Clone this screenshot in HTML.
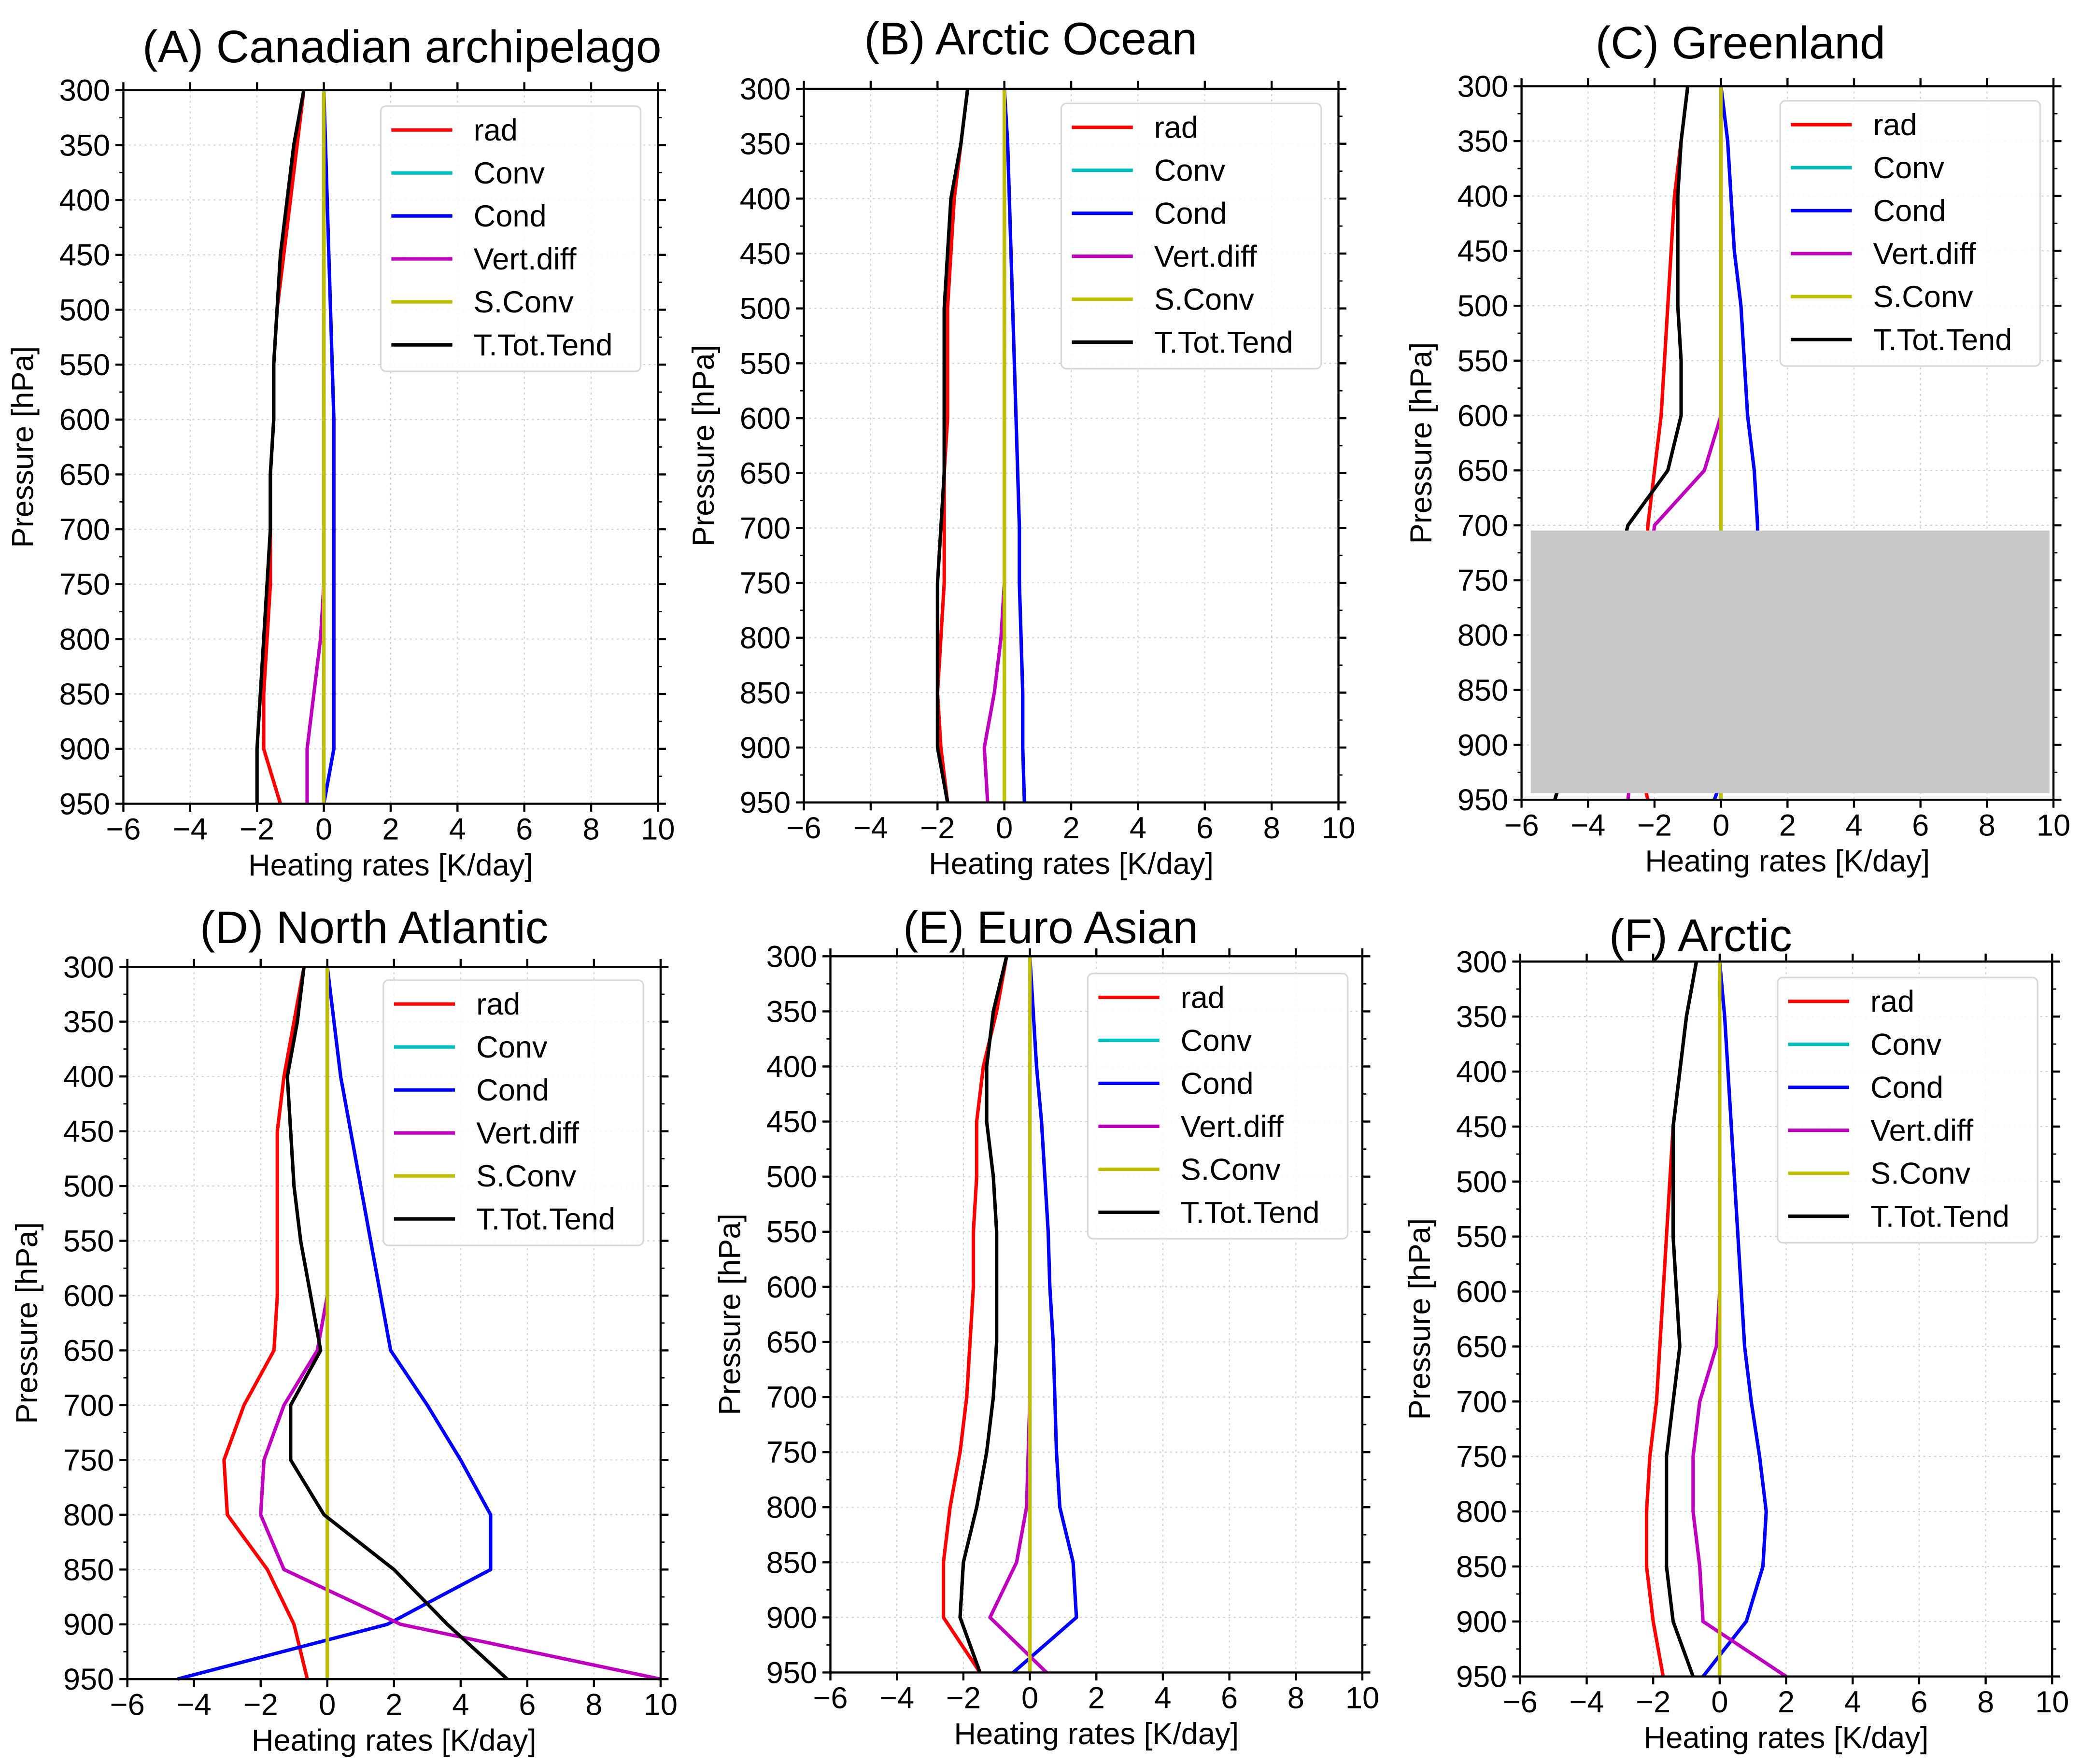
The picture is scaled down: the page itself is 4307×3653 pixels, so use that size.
<!DOCTYPE html>
<html><head><meta charset="utf-8"><style>
html,body{margin:0;padding:0;background:#fff}
svg{display:block}
text{font-family:"Liberation Sans",sans-serif}
</style></head><body>
<svg id="fig" width="4307" height="3653" viewBox="0 0 1568 1330" preserveAspectRatio="none" xmlns="http://www.w3.org/2000/svg"></svg>
<script>
const levels=[300,350,400,450,500,550,600,650,700,750,800,850,900,950];
const xTicks=[-6,-4,-2,0,2,4,6,8,10];
const seriesNames=["rad","Conv","Cond","Vert.diff","S.Conv","T.Tot.Tend"];
const titles=["(A) Canadian archipelago","(B) Arctic Ocean","(C) Greenland","(D) North Atlantic","(E) Euro Asian","(F) Arctic"];
const zeros=[0,0,0,0,0,0,0,0,0,0,0,0,0,0];
const radA=[-0.6,-0.8,-1.0,-1.2,-1.4,-1.5,-1.5,-1.6,-1.6,-1.6,-1.7,-1.8,-1.8,-1.3];
const condA=[0,0.05,0.1,0.15,0.2,0.25,0.3,0.3,0.3,0.3,0.3,0.3,0.3,0];
const vertA=[0,0,0,0,0,0,0,0,0,0,-0.1,-0.3,-0.5,-0.5];
const totA=[-0.6,-0.9,-1.1,-1.3,-1.4,-1.5,-1.5,-1.6,-1.6,-1.7,-1.8,-1.9,-2.0,-2.0];
const radB=[-1.1,-1.3,-1.5,-1.6,-1.7,-1.7,-1.7,-1.8,-1.8,-1.8,-1.9,-2.0,-1.9,-1.7];
const condB=[0,0.1,0.15,0.2,0.25,0.3,0.35,0.4,0.45,0.45,0.5,0.55,0.55,0.6];
const vertB=[0,0,0,0,0,0,0,0,0,0,-0.1,-0.3,-0.6,-0.5];
const totB=[-1.1,-1.3,-1.6,-1.7,-1.8,-1.8,-1.8,-1.8,-1.9,-2.0,-2.0,-2.0,-2.0,-1.7];
const radC=[-1.0,-1.2,-1.4,-1.5,-1.6,-1.7,-1.8,-2.0,-2.2,-2.3,-2.4,-2.5,-2.6,-2.2];
const condC=[0,0.2,0.3,0.4,0.6,0.7,0.8,1.0,1.1,1.1,1.0,0.8,0.4,-0.2];
const vertC=[0,0,0,0,0,0,0,-0.5,-2.0,-2.2,-2.3,-2.4,-2.6,-2.8];
const totC=[-1.0,-1.2,-1.3,-1.3,-1.3,-1.2,-1.2,-1.6,-2.8,-3.2,-3.6,-4.0,-4.5,-5.0];
const radD=[-0.7,-1.0,-1.3,-1.5,-1.5,-1.5,-1.5,-1.6,-2.5,-3.1,-3.0,-1.8,-1.0,-0.6];
const condD=[0,0.2,0.4,0.7,1.0,1.3,1.6,1.9,3.0,4.0,4.9,4.9,1.8,-4.5];
const vertD=[0,0,0,0,0,0,0,-0.3,-1.3,-1.9,-2.0,-1.3,2.2,10];
const totD=[-0.7,-0.9,-1.2,-1.1,-1.0,-0.8,-0.5,-0.2,-1.1,-1.1,-0.1,2.0,3.6,5.4];
const radE=[-0.7,-1.0,-1.4,-1.6,-1.6,-1.7,-1.7,-1.8,-1.9,-2.1,-2.4,-2.6,-2.6,-1.5];
const condE=[0,0.1,0.2,0.35,0.45,0.55,0.6,0.7,0.75,0.8,0.9,1.3,1.4,-0.5];
const vertE=[0,0,0,0,0,0,0,0,0,-0.05,-0.1,-0.4,-1.2,0.5];
const totE=[-0.7,-1.1,-1.3,-1.3,-1.1,-1.0,-1.0,-1.0,-1.1,-1.3,-1.6,-2.0,-2.1,-1.5];
const radF=[-0.7,-1.0,-1.2,-1.4,-1.5,-1.6,-1.7,-1.8,-1.9,-2.1,-2.2,-2.2,-2.0,-1.7];
const condF=[0,0.15,0.25,0.35,0.45,0.55,0.65,0.75,0.95,1.2,1.4,1.3,0.8,-0.5];
const vertF=[0,0,0,0,0,0,0,-0.1,-0.6,-0.8,-0.8,-0.6,-0.5,2.0];
const totF=[-0.7,-1.0,-1.2,-1.4,-1.4,-1.4,-1.3,-1.2,-1.4,-1.6,-1.6,-1.6,-1.4,-0.8];

const panels=[
 {id:"a",x0:93,x1:496,y0:68,y1:606,tx:303,ty:35,lg:[287,80],data:[radA,zeros,condA,vertA,zeros,totA]},
 {id:"b",x0:606,x1:1009,y0:67,y1:605,tx:777,ty:29,lg:[800,78],data:[radB,zeros,condB,vertB,zeros,totB]},
 {id:"c",x0:1147,x1:1548,y0:65,y1:603,tx:1312,ty:32,lg:[1342,76],data:[radC,zeros,condC,vertC,zeros,totC],gray:true},
 {id:"d",x0:96,x1:498,y0:729,y1:1266,tx:282,ty:699,lg:[289,739],data:[radD,zeros,condD,vertD,zeros,totD]},
 {id:"e",x0:626,x1:1027,y0:721,y1:1261,tx:792,ty:699,lg:[820,734],data:[radE,zeros,condE,vertE,zeros,totE]},
 {id:"f",x0:1146,x1:1547,y0:725,y1:1264,tx:1282,ty:705,lg:[1340,737],data:[radF,zeros,condF,vertF,zeros,totF]}
];
const colors=["#ff0000","#00bfbf","#0000ff","#bf00bf","#bfbf00","#000000"];
const NS="http://www.w3.org/2000/svg";
const svg=document.getElementById("fig");
function mk(tag,attrs,parent,txt){const e=document.createElementNS(NS,tag);for(const k in attrs)e.setAttribute(k,attrs[k]);if(txt!==undefined)e.textContent=txt;parent.appendChild(e);return e;}
panels.forEach(p=>{
 const sx=v=>p.x0+(v+6)/16*(p.x1-p.x0);
 const sy=v=>p.y0+(v-300)/650*(p.y1-p.y0);
 const g=mk("g",{},svg);
 
 
 xTicks.forEach(t=>{mk("line",{x1:sx(t),x2:sx(t),y1:p.y0,y2:p.y1,stroke:"#d0d0d0","stroke-width":0.8,"stroke-dasharray":"1.5,2.5"},g);});
 levels.forEach(t=>{mk("line",{x1:p.x0,x2:p.x1,y1:sy(t),y2:sy(t),stroke:"#d0d0d0","stroke-width":0.8,"stroke-dasharray":"1.5,2.5"},g);});
 p.data.forEach((arr,i)=>{
  const pts=arr.map((v,k)=>sx(v).toFixed(2)+","+sy(levels[k]).toFixed(2)).join(" ");
  const pl=mk("polyline",{points:pts,fill:"none",stroke:colors[i],"stroke-width":2.6,"stroke-linejoin":"round"},g);
  
  
 });
 if(p.gray){const r=mk("rect",{x:1154,y:400,width:391,height:198,fill:"#c8c8c8"},g);
  
  }
 mk("rect",{x:p.x0,y:p.y0,width:p.x1-p.x0,height:p.y1-p.y0,fill:"none",stroke:"#000","stroke-width":1.6},g);
 xTicks.forEach(t=>{
  mk("line",{x1:sx(t),x2:sx(t),y1:p.y1,y2:p.y1+6,stroke:"#000","stroke-width":1.6},g);
  mk("line",{x1:sx(t),x2:sx(t),y1:p.y0,y2:p.y0-6,stroke:"#000","stroke-width":1.6},g);
  const tl=mk("text",{x:sx(t),y:p.y1+27,"font-size":23,"text-anchor":"middle"},g,t<0?"\u2212"+(-t):String(t));
  
  
 });
 levels.forEach((t,k)=>{
  mk("line",{x1:p.x0,x2:p.x0-6,y1:sy(t),y2:sy(t),stroke:"#000","stroke-width":1.6},g);
  mk("line",{x1:p.x1,x2:p.x1+6,y1:sy(t),y2:sy(t),stroke:"#000","stroke-width":1.6},g);
  if(k<levels.length-1){const m=sy(t+25);
   mk("line",{x1:p.x0,x2:p.x0-3,y1:m,y2:m,stroke:"#000","stroke-width":1},g);
   mk("line",{x1:p.x1,x2:p.x1+3,y1:m,y2:m,stroke:"#000","stroke-width":1},g);}
  const yl=mk("text",{x:p.x0-10,y:sy(t)+8,"font-size":23,"text-anchor":"end"},g,String(t));
  
  
 });
 const xt=mk("text",{x:(p.x0+p.x1)/2,y:p.y1+54,"font-size":23,"text-anchor":"middle"},g,"Heating rates [K/day]");
 
 
 const cy=(p.y0+p.y1)/2, cx=p.x0-68;
 const yt=mk("text",{x:cx,y:cy,"font-size":23,"text-anchor":"middle",transform:`rotate(-90 ${cx} ${cy})`},g,"Pressure [hPa]");
 
 
 const tt=mk("text",{x:p.tx,y:p.ty+12,"font-size":34.5,"text-anchor":"middle"},g,titles[panels.indexOf(p)]);
 
 
 const lg=mk("g",{},g);
 
 
 const [lx,ly]=p.lg;
 mk("rect",{x:lx,y:ly,width:196,height:200,rx:4,fill:"#fff","fill-opacity":0.85,stroke:"#d8d8d8","stroke-width":1.2},lg);
 seriesNames.forEach((n,i)=>{
  const yy=ly+18+i*32.4;
  mk("line",{x1:lx+8,x2:lx+54,y1:yy,y2:yy,stroke:colors[i],"stroke-width":2.6},lg);
  const le=mk("text",{x:lx+70,y:yy+8,"font-size":23},lg,n);
  
  
 });
});
</script>
</body></html>
